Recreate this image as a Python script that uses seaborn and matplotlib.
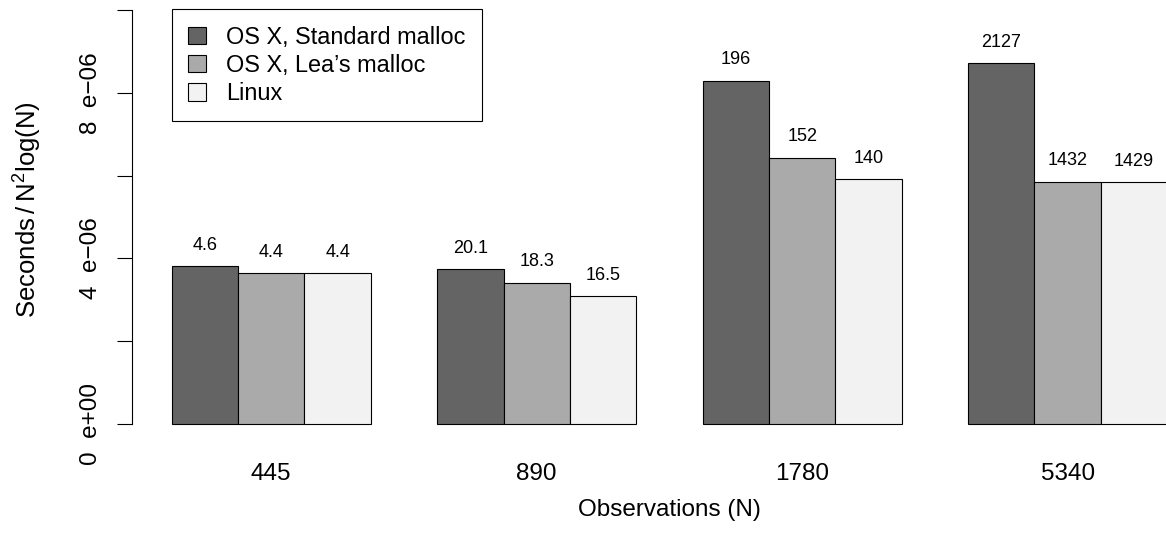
import pandas as pd
import seaborn as sns
import matplotlib.pyplot as plt

# data
sizes = ["445", "890", "1780", "5340"]
systems = ["OS X, Standard malloc", "OS X, Lea\u2019s malloc", "Linux"]
std_vals = [3.82e-6, 3.74e-6, 8.29e-6, 8.71e-6]
lea_vals = [3.65e-6, 3.41e-6, 6.43e-6, 5.85e-6]
linux_vals = [3.65e-6, 3.08e-6, 5.92e-6, 5.84e-6]
std_secs = ["4.6", "20.1", "196", "2127"]
lea_secs = ["4.4", "18.3", "152", "1432"]
linux_secs = ["4.4", "16.5", "140", "1429"]
colors = ["#646464", "#AAAAAA", "#F2F2F2"]

rows = []
for sysname, vals in zip(systems, [std_vals, lea_vals, linux_vals]):
    for n, v in zip(sizes, vals):
        rows.append({"N": n, "system": sysname, "value": v})
df = pd.DataFrame(rows)

sns.set_style("ticks", {"axes.edgecolor": "black", "text.color": "black",
                        "xtick.color": "black", "ytick.color": "black",
                        "axes.labelcolor": "black"})
plt.rcParams["font.family"] = ["Liberation Sans", "DejaVu Sans"]
plt.rcParams["mathtext.fontset"] = "custom"
plt.rcParams["mathtext.rm"] = "Liberation Sans"
plt.rcParams["mathtext.it"] = "Liberation Sans"

fig = plt.figure(figsize=(11.66, 5.51), dpi=100)
ax = fig.add_axes([0.1131, 0.2004, 0.9221, 0.8116])

sns.barplot(data=df, x="N", y="value", hue="system", palette=colors,
            order=sizes, hue_order=systems, width=0.75,
            edgecolor="black", linewidth=0.8, saturation=1, ax=ax)

# value labels above bars
for cont, labels in zip(ax.containers, [std_secs, lea_secs, linux_secs]):
    for bar, lab in zip(cont, labels):
        ax.annotate(lab, xy=(bar.get_x() + bar.get_width() / 2, bar.get_height()),
                    xytext=(0, 15), textcoords="offset points",
                    ha="center", va="center", fontsize=13)

ax.set_xlim(-0.525, 3.525)
ax.set_ylim(-4e-7, 1.04e-5)

for s in ["top", "right", "bottom"]:
    ax.spines[s].set_visible(False)
ax.spines["left"].set_bounds(0, 1e-5)
ax.spines["left"].set_linewidth(0.8)

yt = [0, 2e-6, 4e-6, 6e-6, 8e-6, 1e-5]
ax.set_yticks(yt)
ax.set_yticklabels(["0  e+00", "", "4  e\u221206", "", "8  e\u221206", ""],
                   rotation=90, va="center", fontsize=17.5)
ax.tick_params(axis="y", length=10.8, width=0.8, pad=11)
ax.tick_params(axis="x", length=0, pad=16, labelsize=17.5)

ax.set_xlabel("Observations (N)", fontsize=17.5, va="center")
ax.xaxis.set_label_coords(0.5, -0.155)
ax.set_ylabel(r"$\mathrm{Seconds}\:/\:\mathrm{N}^{2}\mathrm{log(N)}$",
              fontsize=18.5, va="center")
ax.yaxis.set_label_coords(-0.0966, 0.5157)

leg = ax.legend(loc="upper left", bbox_to_anchor=(171.7 / 1166, (551 - 9.3) / 551),
                bbox_transform=fig.transFigure, borderaxespad=0, fontsize=16.9,
                frameon=True, fancybox=False, framealpha=1, edgecolor="black",
                handlelength=0.77, handleheight=0.77, handletextpad=0.85,
                labelspacing=0.22, borderpad=0.7, title=None)
leg.get_frame().set_linewidth(0.8)

fig.savefig("out.png", dpi=100)
